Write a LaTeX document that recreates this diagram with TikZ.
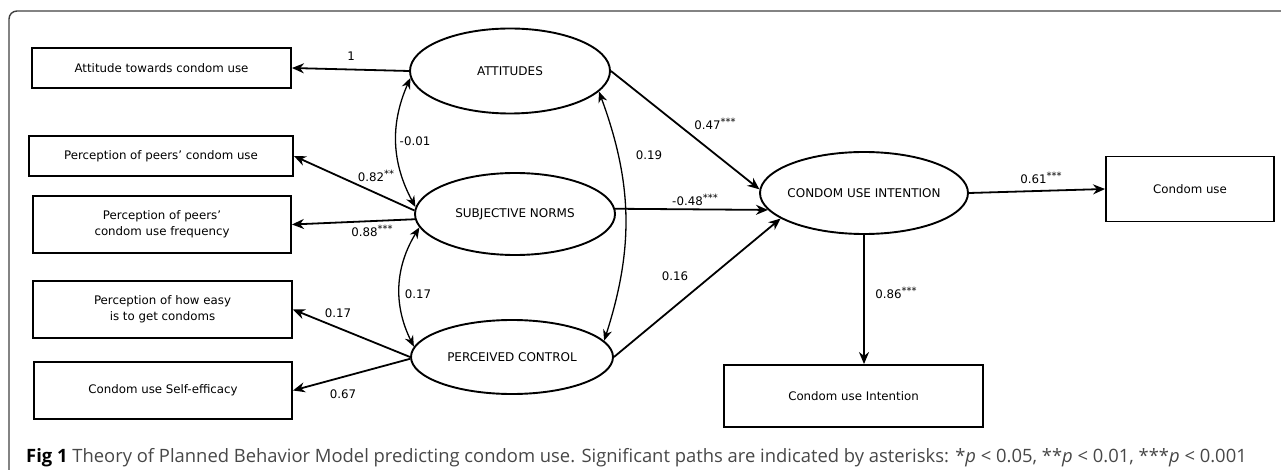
\documentclass[tikz,border=0pt]{standalone}
\usepackage{fontspec}
\setmainfont{DejaVu Sans}
\newfontfamily\capfont{Open Sans}
\usetikzlibrary{arrows.meta,shapes.geometric}
\newcommand\stars[1]{\raisebox{0.3em}{\fontsize{10}{10}\selectfont #1}}
\begin{document}
\begin{tikzpicture}[x=1pt,y=-1pt,
  obs/.style={draw,line width=1.9pt,rectangle,inner sep=0pt,align=center,font=\fontsize{11.8}{16}\selectfont},
  lat/.style={draw,line width=1.9pt,ellipse,inner sep=0pt,font=\fontsize{12}{14}\selectfont},
  pathar/.style={line width=1.8pt,-{Stealth[length=12pt,width=10pt]}},
  cov/.style={line width=1.3pt,{Stealth[length=11pt,width=9pt]}-{Stealth[length=11pt,width=9pt]}},
  lab/.style={font=\fontsize{11.8}{13}\selectfont,inner sep=0pt}]
\useasboundingbox (0,0) rectangle (1281,470);
\draw[line width=1.4pt,black!75,rounded corners=8pt] (1281,11) -- (9,11) -- (9,470);

% latent variables
\node[lat,minimum width=200pt,minimum height=85pt] (att) at (510,71) {\makebox[0pt]{ATTITUDES}};
\node[lat,minimum width=200pt,minimum height=82pt] (sn) at (515,214) {\makebox[0pt]{SUBJECTIVE NORMS}};
\node[lat,minimum width=202pt,minimum height=74pt] (pc) at (512,357) {\makebox[0pt]{PERCEIVED CONTROL}};
\node[lat,minimum width=208pt,minimum height=82pt] (cui) at (864,193) {\makebox[0pt]{CONDOM USE INTENTION}};

% observed variables
\node[obs,minimum width=259pt,minimum height=40pt] (b1) at (161.5,68) {Attitude towards condom use};
\node[obs,minimum width=264pt,minimum height=40pt] (b2) at (161,156) {Perception of peers’ condom use};
\node[obs,minimum width=258pt,minimum height=57pt] (b3) at (162,224.5) {Perception of peers’\\condom use frequency};
\node[obs,minimum width=259pt,minimum height=57pt] (b4) at (162.5,309.5) {Perception of how easy\\is to get condoms};
\node[obs,minimum width=258pt,minimum height=57pt] (b5) at (163,390.5) {Condom use Self-efficacy};
\node[obs,minimum width=168pt,minimum height=65pt] (b6) at (1190,189) {Condom use};
\node[obs,minimum width=259pt,minimum height=62pt] (b7) at (853.5,396) {Condom use Intention};

% paths
\draw[pathar] (att.west) -- (b1.east);
\draw[pathar] (sn.178) -- (b2.east);
\draw[pathar] (sn.183) -- (b3.east);
\draw[pathar] (pc.180) -- (b4.east);
\draw[pathar] (pc.181) -- (b5.east);
\draw[cov] (att.184) to[bend right=26] (sn.176);
\draw[cov] (sn.188) to[bend right=29] (pc.174);
\draw[cov] (att.-13) to[bend left=19] (pc.10);
\draw[pathar] (att.east) -- (cui.178);
\draw[pathar] (sn.3) -- (cui.190);
\draw[pathar] (pc.east) -- (cui.197);
\draw[pathar] (cui.east) -- (b6.west);
\draw[pathar] (cui.south) -- (cui.south |- b7.north);

% labels
\node[lab] (l1) at (351,56) {1};
\node[lab] (l2) at (415,141) {-0.01};
\node[lab] (l3) at (376,176) {0.82\stars{**}};
\node[lab] (l4) at (372,231) {0.88\stars{***}};
\node[lab] (l5) at (418,294) {0.17};
\node[lab] (l6) at (338,313) {0.17};
\node[lab] (l7) at (343,394) {0.67};
\node[lab] (l8) at (649,155) {0.19};
\node[lab] (l9) at (715,124) {0.47\stars{***}};
\node[lab] (l10) at (695,200) {-0.48\stars{***}};
\node[lab] (l11) at (675,276) {0.16};
\node[lab] (l12) at (1041,178) {0.61\stars{***}};
\node[lab] (l13) at (896,293) {0.86\stars{***}};

% caption
\node[anchor=base west,inner sep=0pt,font=\capfont\fontsize{18.4}{21}\selectfont,text=black!72] (cap) at (26,462)
  {\textcolor{black}{\textbf{Fig 1}} Theory of Planned Behavior Model predicting condom use. Significant paths are indicated by asterisks: *\textit{p} < 0.05, **\textit{p} < 0.01, ***\textit{p} < 0.001};
\end{tikzpicture}
\end{document}
